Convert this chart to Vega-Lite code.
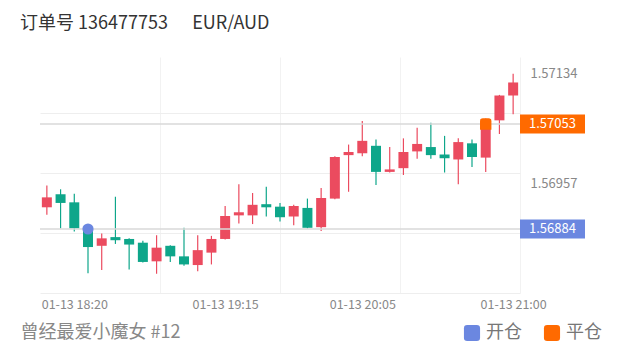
{
  "$schema": "https://vega.github.io/schema/vega-lite/v6.json",
  "width": 480,
  "height": 236,
  "autosize": {"type": "none"},
  "padding": {"left": 40, "top": 57, "right": 100, "bottom": 59},
  "background": "white",
  "config": {
    "view": {"stroke": null},
    "font": "Noto Sans CJK SC"
  },
  "title": {
    "text": "订单号 136477753\u00a0\u00a0\u00a0\u00a0\u00a0 EUR/AUD",
    "anchor": "start",
    "frame": "group",
    "dx": -20,
    "offset": 15,
    "baseline": "middle",
    "fontSize": 18,
    "fontWeight": "normal",
    "color": "#333333"
  },
  "datasets": {
    "candles": [
      {"t": "2024-01-13T18:10:00Z", "open": 1.56919, "high": 1.56954, "low": 1.56907, "close": 1.56935},
      {"t": "2024-01-13T18:15:00Z", "open": 1.56940, "high": 1.56948, "low": 1.56885, "close": 1.56926},
      {"t": "2024-01-13T18:20:00Z", "open": 1.56927, "high": 1.56941, "low": 1.56880, "close": 1.56885},
      {"t": "2024-01-13T18:25:00Z", "open": 1.56884, "high": 1.56890, "low": 1.56813, "close": 1.56855},
      {"t": "2024-01-13T18:30:00Z", "open": 1.56857, "high": 1.56877, "low": 1.56818, "close": 1.56869},
      {"t": "2024-01-13T18:35:00Z", "open": 1.56871, "high": 1.56936, "low": 1.56860, "close": 1.56866},
      {"t": "2024-01-13T18:40:00Z", "open": 1.56868, "high": 1.56869, "low": 1.56819, "close": 1.56859},
      {"t": "2024-01-13T18:45:00Z", "open": 1.56862, "high": 1.56865, "low": 1.56830, "close": 1.56831},
      {"t": "2024-01-13T18:50:00Z", "open": 1.56832, "high": 1.56874, "low": 1.56812, "close": 1.56854},
      {"t": "2024-01-13T18:55:00Z", "open": 1.56857, "high": 1.56858, "low": 1.56831, "close": 1.56840},
      {"t": "2024-01-13T19:00:00Z", "open": 1.56840, "high": 1.56886, "low": 1.56825, "close": 1.56827},
      {"t": "2024-01-13T19:05:00Z", "open": 1.56826, "high": 1.56874, "low": 1.56816, "close": 1.56850},
      {"t": "2024-01-13T19:10:00Z", "open": 1.56846, "high": 1.56873, "low": 1.56827, "close": 1.56868},
      {"t": "2024-01-13T19:15:00Z", "open": 1.56868, "high": 1.56921, "low": 1.56867, "close": 1.56905},
      {"t": "2024-01-13T19:20:00Z", "open": 1.56906, "high": 1.56956, "low": 1.56893, "close": 1.56911},
      {"t": "2024-01-13T19:25:00Z", "open": 1.56906, "high": 1.56942, "low": 1.56892, "close": 1.56923},
      {"t": "2024-01-13T19:30:00Z", "open": 1.56924, "high": 1.56952, "low": 1.56904, "close": 1.56919},
      {"t": "2024-01-13T19:35:00Z", "open": 1.56920, "high": 1.56926, "low": 1.56896, "close": 1.56903},
      {"t": "2024-01-13T19:40:00Z", "open": 1.56904, "high": 1.56923, "low": 1.56890, "close": 1.56921},
      {"t": "2024-01-13T19:45:00Z", "open": 1.56918, "high": 1.56933, "low": 1.56885, "close": 1.56886},
      {"t": "2024-01-13T19:50:00Z", "open": 1.56887, "high": 1.56950, "low": 1.56881, "close": 1.56934},
      {"t": "2024-01-13T19:55:00Z", "open": 1.56933, "high": 1.57001, "low": 1.56932, "close": 1.57000},
      {"t": "2024-01-13T20:00:00Z", "open": 1.57003, "high": 1.57020, "low": 1.56944, "close": 1.57008},
      {"t": "2024-01-13T20:05:00Z", "open": 1.57006, "high": 1.57058, "low": 1.57001, "close": 1.57026},
      {"t": "2024-01-13T20:10:00Z", "open": 1.57018, "high": 1.57028, "low": 1.56955, "close": 1.56976},
      {"t": "2024-01-13T20:15:00Z", "open": 1.56976, "high": 1.57016, "low": 1.56975, "close": 1.56980},
      {"t": "2024-01-13T20:20:00Z", "open": 1.56982, "high": 1.57030, "low": 1.56971, "close": 1.57008},
      {"t": "2024-01-13T20:25:00Z", "open": 1.57009, "high": 1.57047, "low": 1.56997, "close": 1.57021},
      {"t": "2024-01-13T20:30:00Z", "open": 1.57016, "high": 1.57055, "low": 1.56997, "close": 1.57003},
      {"t": "2024-01-13T20:35:00Z", "open": 1.57004, "high": 1.57034, "low": 1.56975, "close": 1.56998},
      {"t": "2024-01-13T20:40:00Z", "open": 1.56996, "high": 1.57030, "low": 1.56956, "close": 1.57024},
      {"t": "2024-01-13T20:45:00Z", "open": 1.57022, "high": 1.57028, "low": 1.56984, "close": 1.57000},
      {"t": "2024-01-13T20:50:00Z", "open": 1.56999, "high": 1.57062, "low": 1.56976, "close": 1.57061},
      {"t": "2024-01-13T20:55:00Z", "open": 1.57059, "high": 1.57100, "low": 1.57037, "close": 1.57099},
      {"t": "2024-01-13T21:00:00Z", "open": 1.57099, "high": 1.57134, "low": 1.57069, "close": 1.57120}
    ],
    "orders": [
      {"t": "2024-01-13T18:25:00Z", "price": 1.56884, "type": "开仓"},
      {"t": "2024-01-13T20:50:00Z", "price": 1.57053, "type": "平仓"}
    ]
  },
  "resolve": {"axis": {"x": "independent", "y": "independent"}},
  "layer": [
    {
      "data": {"name": "candles"},
      "mark": {"type": "rule", "strokeWidth": 1.2},
      "encoding": {
        "x": {
          "field": "t", "type": "temporal",
          "scale": {"type": "utc", "padding": 0, "domain": [
            {"year": 2024, "month": 1, "date": 13, "hours": 18, "minutes": 7, "seconds": 30, "utc": true},
            {"year": 2024, "month": 1, "date": 13, "hours": 21, "minutes": 2, "seconds": 30, "utc": true}
          ]},
          "axis": {
            "orient": "bottom",
            "values": [
              {"year": 2024, "month": 1, "date": 13, "hours": 18, "minutes": 20, "utc": true},
              {"year": 2024, "month": 1, "date": 13, "hours": 19, "minutes": 15, "utc": true},
              {"year": 2024, "month": 1, "date": 13, "hours": 20, "minutes": 5, "utc": true},
              {"year": 2024, "month": 1, "date": 13, "hours": 21, "minutes": 0, "utc": true}
            ],
            "format": "%m-%d %H:%M",
            "grid": false, "ticks": false, "domain": false,
            "labelFontSize": 12.5, "labelColor": "#888888", "labelPadding": 5,
            "labelOverlap": false, "labelBound": false, "labelFlush": false,
            "title": "曾经最爱小魔女 #12",
            "titleX": -20, "titleY": 39, "titleAlign": "left", "titleAnchor": null,
            "titleBaseline": "middle", "titleFontSize": 18, "titleFontWeight": "normal",
            "titleColor": "#888888"
          }
        },
        "y": {
          "field": "low", "type": "quantitative",
          "scale": {"domain": [1.56781, 1.57161], "zero": false, "nice": false, "padding": 0},
          "axis": {
            "orient": "right", "values": [1.56957, 1.57134], "format": ".5f",
            "grid": false, "ticks": false, "domain": false,
            "labelFontSize": 13, "labelColor": "#888888", "labelPadding": 10, "title": null
          }
        },
        "y2": {"field": "high"},
        "color": {"condition": {"test": "datum.close >= datum.open", "value": "#eb4b5f"}, "value": "#0ea68a"}
      }
    },
    {
      "data": {"name": "candles"},
      "mark": {"type": "bar", "size": 10, "orient": "vertical"},
      "encoding": {
        "x": {
          "field": "t", "type": "temporal",
          "scale": {"type": "utc", "padding": 0},
          "axis": {
            "orient": "bottom",
            "values": [
              {"year": 2024, "month": 1, "date": 13, "hours": 18, "minutes": 51, "seconds": 15, "utc": true},
              {"year": 2024, "month": 1, "date": 13, "hours": 19, "minutes": 35, "seconds": 0, "utc": true},
              {"year": 2024, "month": 1, "date": 13, "hours": 20, "minutes": 18, "seconds": 45, "utc": true},
              {"year": 2024, "month": 1, "date": 13, "hours": 21, "minutes": 2, "seconds": 30, "utc": true}
            ],
            "grid": true, "gridColor": "#f2f2f2", "gridWidth": 1,
            "labels": false, "ticks": false, "domain": false, "title": null
          }
        },
        "y": {
          "field": "open", "type": "quantitative",
          "scale": {"padding": 0},
          "axis": {
            "orient": "left", "values": [1.56781, 1.56878, 1.56974, 1.57071],
            "grid": true, "gridColor": "#eeeeee", "gridWidth": 1,
            "labels": false, "ticks": false, "domain": false, "title": null
          }
        },
        "y2": {"field": "close"},
        "color": {"condition": {"test": "datum.close >= datum.open", "value": "#eb4b5f"}, "value": "#0ea68a"}
      }
    },
    {
      "data": {"name": "orders"},
      "mark": {"type": "rule", "color": "#d9d9d9", "strokeWidth": 1.5},
      "encoding": {
        "y": {"field": "price", "type": "quantitative", "axis": null}
      }
    },
    {
      "data": {"name": "orders"},
      "transform": [{"filter": "datum.type === '开仓'"}],
      "mark": {"type": "point", "shape": "circle", "filled": true, "size": 125, "opacity": 1},
      "encoding": {
        "x": {"field": "t", "type": "temporal", "axis": null},
        "y": {"field": "price", "type": "quantitative", "axis": null},
        "color": {
          "field": "type", "type": "nominal",
          "scale": {"domain": ["开仓", "平仓"], "range": ["#6b87e0", "#ff6a00"]},
          "legend": {
            "title": null, "orient": "none", "legendX": 423, "legendY": 267,
            "direction": "horizontal",
            "symbolType": "M-1,-0.6Q-1,-1,-0.6,-1L0.6,-1Q1,-1,1,-0.6L1,0.6Q1,1,0.6,1L-0.6,1Q-1,1,-1,0.6Z",
            "symbolSize": 260, "symbolStrokeWidth": 0, "symbolOpacity": 1,
            "labelFontSize": 18, "labelColor": "#777777", "labelOffset": 5,
            "columnPadding": 21
          }
        }
      }
    },
    {
      "data": {"name": "orders"},
      "transform": [{"filter": "datum.type === '平仓'"}],
      "mark": {"type": "point", "shape": "M-1,-0.5Q-1,-1,-0.5,-1L0.5,-1Q1,-1,1,-0.5L1,1L-1,1Z", "filled": true, "size": 130, "opacity": 1},
      "encoding": {
        "x": {"field": "t", "type": "temporal", "axis": null},
        "y": {"field": "price", "type": "quantitative", "axis": null},
        "color": {"field": "type", "type": "nominal"}
      }
    },
    {
      "data": {"name": "orders"},
      "mark": {"type": "bar", "orient": "horizontal", "size": 19},
      "encoding": {
        "x": {"datum": {"year": 2024, "month": 1, "date": 13, "hours": 21, "minutes": 2, "seconds": 30, "utc": true}, "type": "temporal", "axis": null},
        "x2": {"datum": {"year": 2024, "month": 1, "date": 13, "hours": 21, "minutes": 26, "seconds": 12, "utc": true}},
        "y": {"field": "price", "type": "quantitative", "axis": null},
        "color": {"field": "type", "type": "nominal"}
      }
    },
    {
      "data": {"name": "orders"},
      "mark": {"type": "text", "color": "white", "fontSize": 13, "align": "center", "baseline": "middle"},
      "encoding": {
        "x": {"datum": {"year": 2024, "month": 1, "date": 13, "hours": 21, "minutes": 14, "seconds": 20, "utc": true}, "type": "temporal", "axis": null},
        "y": {"field": "price", "type": "quantitative", "axis": null},
        "text": {"field": "price", "type": "quantitative", "format": ".5f"}
      }
    }
  ]
}
